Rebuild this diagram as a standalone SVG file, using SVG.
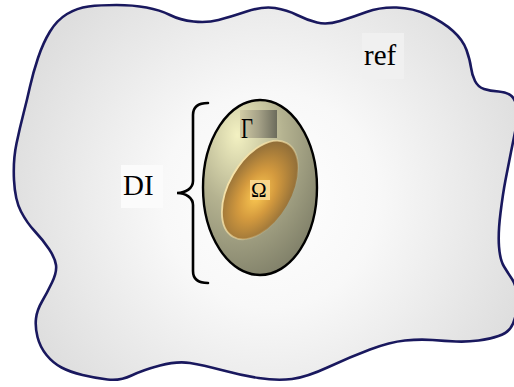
<svg xmlns="http://www.w3.org/2000/svg" width="514" height="387" viewBox="0 0 514 387">
<defs>
<radialGradient id="bg" gradientUnits="userSpaceOnUse" cx="270" cy="200" r="270">
<stop offset="0" stop-color="#ffffff"/>
<stop offset="0.4" stop-color="#f8f8f8"/>
<stop offset="1" stop-color="#dedede"/>
</radialGradient>
<radialGradient id="outerG" cx="0.3" cy="0.2" r="0.9">
<stop offset="0" stop-color="#f3f1c2"/>
<stop offset="0.45" stop-color="#b4b290"/>
<stop offset="1" stop-color="#7c7c66"/>
</radialGradient>
<radialGradient id="innerG" cx="0.5" cy="0.55" r="0.55">
<stop offset="0" stop-color="#fdca52"/>
<stop offset="0.45" stop-color="#d49a3e"/>
<stop offset="1" stop-color="#8e6c38"/>
</radialGradient>
<linearGradient id="rim" x1="0" y1="0" x2="1" y2="0">
<stop offset="0" stop-color="#f6e2a8"/>
<stop offset="0.5" stop-color="#f6e2a8" stop-opacity="0.6"/>
<stop offset="1" stop-color="#f6e2a8" stop-opacity="0"/>
</linearGradient>
<linearGradient id="gamG" x1="0" y1="0" x2="1" y2="0">
<stop offset="0" stop-color="#d2cca6"/>
<stop offset="0.5" stop-color="#a6a288"/>
<stop offset="1" stop-color="#6c6c5c"/>
</linearGradient>
<style>
.lbl{font-family:"Liberation Serif",serif;fill:#000;font-weight:normal}
</style>
</defs>
<rect width="514" height="387" fill="#ffffff"/>
<g id="ref-domain">
<path d="M50,31.5 Q57,20 67,14 Q77,8 88.5,6.5 Q100,5 116.5,5 Q133,5 146.5,7.5 Q160,10 170,15 Q180,20 193.5,21.5 Q207,23 218.5,20 Q230,17 246.5,11.5 Q263,6 275,8 Q287,10 297,15 Q307,20 317,22.5 Q327,25 340,21 Q353,17 366.5,12 Q380,7 396.5,7.5 Q413,8 428,15 Q443,22 453,31 Q463,40 466.5,50 Q470,60 471,67.5 Q472,75 475,81 Q478,87 484,89 Q490,91 498.5,91.5 Q507,92 511.5,96 Q516,100 517,109 Q518,118 516,127.5 Q514,137 511,152 Q508,167 505.5,180 Q503,193 500.5,213 Q498,233 499,246.5 Q500,260 504,266.5 Q508,273 512,279 Q516,285 517,295 Q518,305 516,314 Q514,323 510.5,328 Q507,333 498.5,336 Q490,339 478.5,340.5 Q467,342 456,341.5 Q445,341 432.5,340 Q420,339 405,340.5 Q390,342 370,349.5 Q350,357 328.5,367 Q307,377 292,379 Q277,381 258.5,378 Q240,375 221.5,370 Q203,365 190,363 Q177,361 160,365.5 Q143,370 131.5,375.5 Q120,381 107.5,379.5 Q95,378 82.5,375 Q70,372 61.5,367.5 Q53,363 46.5,355 Q40,347 37.5,337 Q35,327 36,318.5 Q37,310 42,301.5 Q47,293 52,282.5 Q57,272 56,265 Q55,258 49,249 Q43,240 35,231.5 Q27,223 21,211.5 Q15,200 14,180 Q13,160 16.5,143.5 Q20,127 23.5,113.5 Q27,100 30,86.5 Q33,73 38,58 Q43,43 50,31.5 Z" fill="url(#bg)" stroke="#19185e" stroke-width="2.6" stroke-linejoin="round"/>
<rect x="362" y="33" width="42" height="46" fill="#f0f0f0"/>
<text class="lbl" x="364" y="65" font-size="29">ref</text>
</g>
<g id="DI-region">
<ellipse cx="260" cy="187.5" rx="57" ry="87.5" fill="url(#outerG)" stroke="#000" stroke-width="2.4"/>
<rect x="240" y="110" width="37" height="28" fill="url(#gamG)"/>
<text class="lbl" x="241" y="138" font-size="30" textLength="12" lengthAdjust="spacingAndGlyphs">Γ</text>
</g>
<g id="Omega-region">
<ellipse cx="260" cy="190" rx="31" ry="54" transform="rotate(30 260 190)" fill="url(#innerG)" stroke="url(#rim)" stroke-width="1.8"/>
<rect x="250" y="180" width="20" height="20" fill="#f9d58c"/>
<text class="lbl" x="251" y="196.7" font-size="21">Ω</text>
</g>
<g id="DI-label">
<rect x="121" y="165" width="42" height="43" fill="#fbfbfb"/>
<text class="lbl" x="123" y="195.3" font-size="29">DI</text>
</g>
<g id="connectors">
<path d="M208,103 C198,103 193,107 193,115 L193,181 C193,188 186,193 177,193 C186,193 193,198 193,205 L193,271 C193,279 198,283 208,283" fill="none" stroke="#000" stroke-width="2.6" stroke-linecap="round"/>
</g>
</svg>
